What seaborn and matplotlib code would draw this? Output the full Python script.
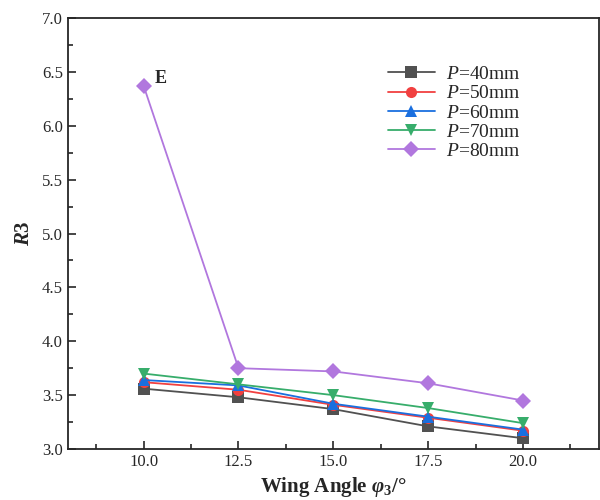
import matplotlib
matplotlib.use("Agg")
import matplotlib.pyplot as plt
import seaborn as sns
import pandas as pd
from matplotlib.ticker import MultipleLocator

angles = [10.0, 12.5, 15.0, 17.5, 20.0]
p40 = [3.56, 3.48, 3.37, 3.21, 3.10]
p50 = [3.62, 3.55, 3.41, 3.29, 3.17]
p60 = [3.64, 3.59, 3.42, 3.30, 3.18]
p70 = [3.70, 3.60, 3.50, 3.38, 3.24]
p80 = [6.37, 3.75, 3.72, 3.61, 3.45]
labels = ["$\\mathit{P}$=40mm", "$\\mathit{P}$=50mm", "$\\mathit{P}$=60mm",
          "$\\mathit{P}$=70mm", "$\\mathit{P}$=80mm"]
series = [p40, p50, p60, p70, p80]

sns.set_style("ticks")
plt.rcParams['font.family'] = ['Liberation Serif', 'DejaVu Serif']
plt.rcParams['mathtext.fontset'] = 'custom'
plt.rcParams['mathtext.rm'] = 'Liberation Serif'
plt.rcParams['mathtext.it'] = 'Liberation Serif:italic'
plt.rcParams['mathtext.bf'] = 'Liberation Serif:bold'
plt.rcParams['mathtext.bfit'] = 'Liberation Serif:bold:italic'

rows = []
for lab, vals in zip(labels, series):
    for a, v in zip(angles, vals):
        rows.append({"angle": a, "R3": v, "P": lab})
df = pd.DataFrame(rows)

colors = ["#515151", "#F14040", "#1A6FDF", "#37AD6B", "#B177DE"]
markers = ["s", "o", "^", "v", "D"]

fig = plt.figure(figsize=(6, 5), dpi=100)
ax = fig.add_axes([0.113, 0.102, 0.885, 0.862])
sns.lineplot(data=df, x="angle", y="R3", hue="P", style="P",
             palette=dict(zip(labels, colors)),
             markers=dict(zip(labels, markers)), dashes=False,
             markersize=8, linewidth=1.3, markeredgewidth=0, ax=ax)

ax.set_xlim(8.0, 22.0)
ax.set_ylim(3.0, 7.0)
ax.set_xticks(angles)
ax.set_xticklabels([f"{a:.1f}" for a in angles])
ax.xaxis.set_minor_locator(MultipleLocator(1.25))
ax.yaxis.set_major_locator(MultipleLocator(0.5))
ax.yaxis.set_minor_locator(MultipleLocator(0.25))
ax.tick_params(which="both", direction="in", top=False, right=False, labelsize=12, width=1.2)
ax.tick_params(which="major", length=6)
ax.tick_params(which="minor", length=3.5)
ax.set_yticklabels([f"{v:.1f}" for v in ax.get_yticks()])
for s in ax.spines.values():
    s.set_linewidth(1.3)
    s.set_visible(True)

ax.set_xlabel("Wing Angle $\\mathbfit{\\varphi}_\\mathbf{3}$/°", fontsize=15, fontweight="bold", labelpad=4)
ax.set_ylabel("$\\mathbfit{R}$3", fontsize=15, fontweight="bold", labelpad=6)
ax.text(10.3, 6.40, "E", fontsize=13, fontweight="bold")

leg = ax.legend(loc="upper left", bbox_to_anchor=(0.57, 0.93), frameon=False,
                fontsize=14, handlelength=2.4, labelspacing=0.08, handletextpad=0.6)
fig.savefig("out.png", dpi=100)
